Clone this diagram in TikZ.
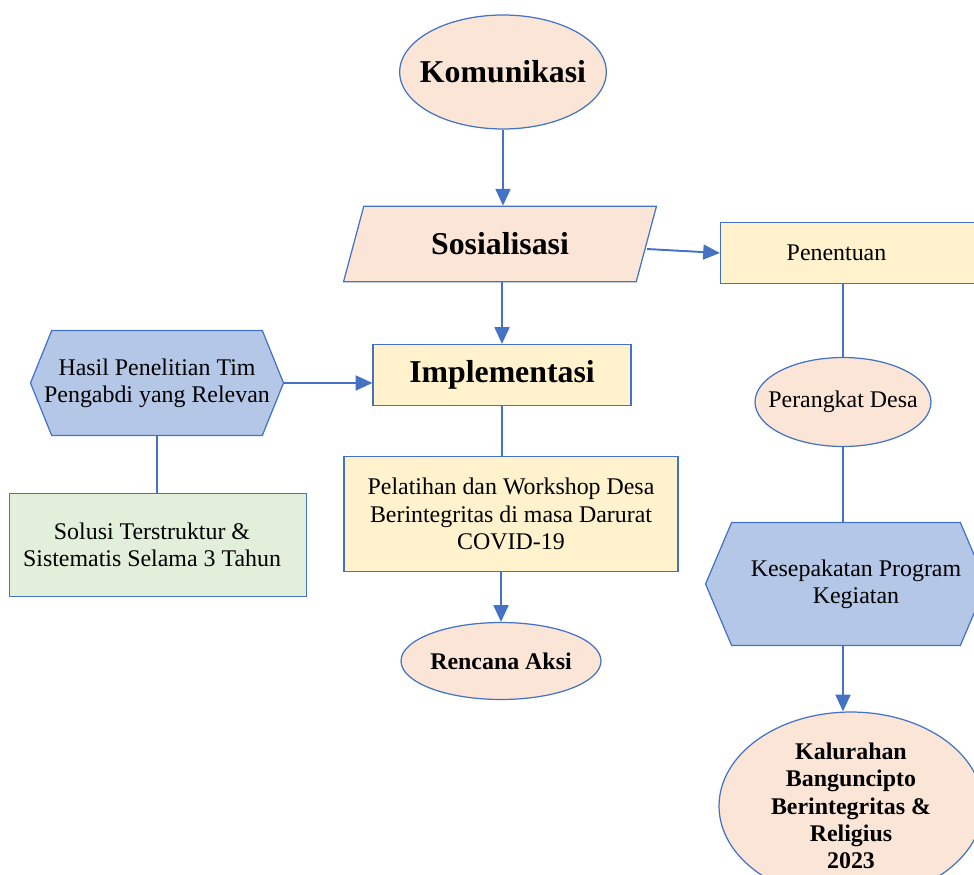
\documentclass[tikz,border=0pt]{standalone}
\usepackage{fontspec}
\setmainfont{Liberation Serif}
\usetikzlibrary{shapes.geometric, shapes.symbols, arrows.meta, positioning}

\definecolor{lineblue}{HTML}{4472C4}
\definecolor{peach}{HTML}{FBE5D6}
\definecolor{cream}{HTML}{FFF2CC}
\definecolor{bluefill}{HTML}{B4C7E7}
\definecolor{greenfill}{HTML}{E2EFDA}

\begin{document}
\begin{tikzpicture}[x=0.02cm, y=-0.02cm,
    every node/.style={draw=lineblue, line width=0.7pt, inner sep=0pt, align=center,
        font=\fontsize{13.6}{15.6}\selectfont},
    oval/.style={ellipse, fill=peach},
    box/.style={rectangle, fill=cream},
    hexa/.style={signal, signal to=east and west, signal pointer angle=136, fill=bluefill},
    title/.style={font=\bfseries\fontsize{18.1}{21}\selectfont},
    bold/.style={font=\bfseries\fontsize{13.6}{15.5}\selectfont},
    plain/.style={draw=none, fill=none},
    arrow/.style={draw=lineblue, line width=1.1pt, -{Triangle[length=9.5pt, width=8.5pt]}},
    link/.style={draw=lineblue, line width=1.1pt}]
    \useasboundingbox (0,0) rectangle (974,875);
    \clip (0,0) rectangle (974,875);

    % Nodes
    \node[oval, title, inner xsep=-0.2cm, minimum width=4.12cm, minimum height=2.28cm] (komunikasi) at (503, 72) {Komunikasi};
    \node[trapezium, trapezium left angle=75, trapezium right angle=105, trapezium stretches body,
        fill=peach, title, text height=12pt, text depth=0pt, inner ysep=15.5pt,
        minimum width=6.26cm] (sosialisasi) at (500, 244) {Sosialisasi};
    \node[box, minimum width=5.38cm, minimum height=1.22cm,
        label={[plain, xshift=-0.37cm]center:Penentuan}] (penentuan) at (855, 253) {};
    \node[box, title, minimum width=5.16cm, minimum height=1.22cm] (implementasi) at (502, 375) {Implementasi};
    \node[hexa, inner xsep=-0.15cm, minimum width=5.06cm, minimum height=2.1cm] (hasil) at (157, 383) {Hasil Penelitian Tim\\Pengabdi yang Relevan};
    \node[rectangle, fill=greenfill, minimum width=5.94cm, minimum height=2.06cm,
        label={[plain, xshift=-0.12cm]center:Solusi Terstruktur \&\\Sistematis Selama 3 Tahun}] (solusi) at (158, 545) {};
    \node[box, minimum width=6.68cm, minimum height=2.3cm] (pelatihan) at (511, 514) {Pelatihan dan Workshop Desa\\Berintegritas di masa Darurat\\COVID-19};
    \node[oval, bold, minimum width=3.92cm, minimum height=1.54cm] (rencana) at (501, 661) {Rencana Aksi};
    \node[oval, inner xsep=-0.25cm, minimum width=3.52cm, minimum height=1.78cm] (perangkat) at (843, 402) {Perangkat Desa};
    \node[hexa, signal pointer angle=134, minimum width=5.62cm, minimum height=2.46cm,
        label={[plain, xshift=0.2cm]center:Kesepakatan Program\\Kegiatan}] (kesepakatan) at (846, 584) {};
    \node[oval, bold, minimum width=5.28cm, minimum height=3.76cm] (kalurahan) at (851, 806) {Kalurahan\\Banguncipto\\Berintegritas \&\\Religius\\2023};

    % Edges
    \draw[arrow] (komunikasi.south) -- (komunikasi.south |- sosialisasi.north);
    \draw[arrow] ([yshift=-0.1cm]sosialisasi.east) -- (penentuan.west);
    \draw[arrow] (sosialisasi.south -| implementasi) -- (implementasi.north);
    \draw[arrow] (hasil.east) -- (hasil.east -| implementasi.west);
    \draw[link] (hasil.south) -- (hasil.south |- solusi.north);
    \draw[link] (implementasi.south) -- (implementasi.south |- pelatihan.north);
    \draw[arrow] (rencana.north |- pelatihan.south) -- (rencana.north);
    \draw[link] (perangkat.north |- penentuan.south) -- (perangkat.north);
    \draw[link] (perangkat.south) -- (perangkat.south |- kesepakatan.north);
    \draw[arrow] (perangkat.south |- kesepakatan.south) -- (perangkat.south |- kalurahan.north);
\end{tikzpicture}
\end{document}
